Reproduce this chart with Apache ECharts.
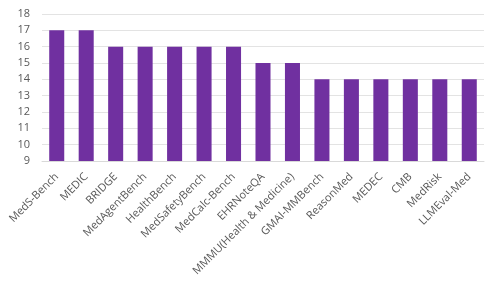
<!DOCTYPE html>
<html><head><meta charset="utf-8">
<script src="https://cdn.jsdelivr.net/npm/echarts@6/dist/echarts.min.js"></script>
<style>html,body{margin:0;padding:0;background:#fff}#c{width:498px;height:283px}</style>
</head><body><div id="c"></div>
<script>
const categories = ["MedS-Bench","MEDIC","BRIDGE","MedAgentBench","HealthBench","MedSafetyBench","MedCalc-Bench","EHRNoteQA","MMMU(Health & Medicine)","GMAI-MMBench","ReasonMed","MEDEC","CMB","MedRisk","LLMEval-Med"];
const values = [17,17,16,16,16,16,16,15,15,14,14,14,14,14,14];
const chart = echarts.init(document.getElementById('c'), null, {renderer:'canvas'});
chart.setOption({
  animation:false,
  grid:{left:42,right:14,top:14,bottom:122,containLabel:false},
  xAxis:{type:'category',data:categories,
    axisLine:{lineStyle:{color:'#d9d9d9'}},axisTick:{show:false},
    axisLabel:{rotate:45,interval:0,color:'#595959',fontSize:11,fontFamily:'Open Sans, Liberation Sans, sans-serif',margin:14}},
  yAxis:{type:'value',min:9,max:18,interval:1,
    axisLine:{show:false},axisTick:{show:false},
    splitLine:{lineStyle:{color:'#e3e3e3'}},
    axisLabel:{color:'#595959',fontSize:11,fontFamily:'Open Sans, Liberation Sans, sans-serif',margin:12}},
  series:[{type:'bar',data:values,barWidth:'51%',itemStyle:{color:'#7030A0'}}]
});
</script></body></html>
